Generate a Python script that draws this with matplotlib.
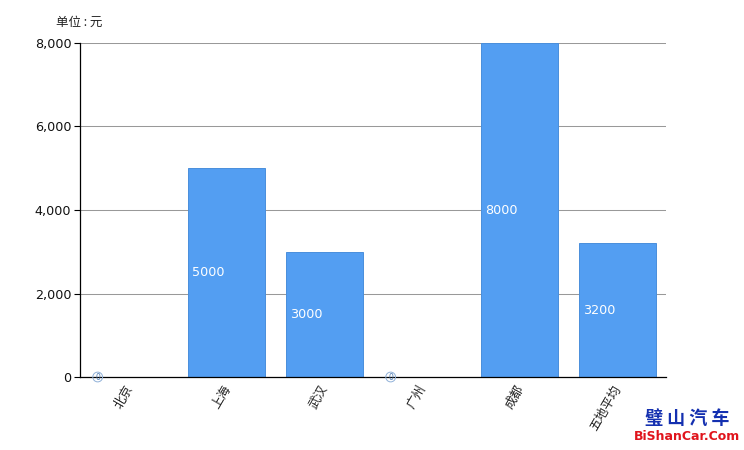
import matplotlib
matplotlib.use("Agg")
import matplotlib.pyplot as plt

plt.rcParams["font.family"] = ["Noto Sans CJK SC", "DejaVu Sans"]

cities = ["北京", "上海", "武汉", "广州", "成都", "五地平均"]
prices = [0, 5000, 3000, 0, 8000, 3200]
y_ticks = [0, 2000, 4000, 6000, 8000]

W, H = 744, 450


def main():
    fig = plt.figure(figsize=(W / 100, H / 100), dpi=100)
    ax = fig.add_axes([80 / W, 1 - 377 / H, 586 / W, 334 / H])
    x = list(range(len(cities)))

    ax.bar(x, prices, width=0.79, color="#539ef2", edgecolor="#4a8fdc", linewidth=0.7, zorder=2)
    ax.set_xlim(-0.5, 5.5)
    ax.set_ylim(0, 8000)

    ax.set_yticks(y_ticks)
    ax.set_yticklabels([f"{v:,}" for v in y_ticks], fontsize=9.2, family="DejaVu Sans", color="#111111")
    ax.yaxis.grid(True, color="#999999", linewidth=0.75, zorder=1)
    ax.set_axisbelow(True)
    ax.tick_params(axis="y", length=4.3, width=0.8, pad=2)

    ax.set_xticks(x)
    ax.set_xticklabels([])
    ax.tick_params(axis="x", length=0)
    for i, name in enumerate(cities):
        ax.annotate(name, (i, 0), xytext=(5, -4.3), textcoords="offset points",
                    rotation=60, ha="right", va="top", rotation_mode="default",
                    fontsize=9, color="#222222")

    for s in ["top", "right"]:
        ax.spines[s].set_visible(False)
    for s in ["left", "bottom"]:
        ax.spines[s].set_linewidth(0.9)
        ax.spines[s].set_color("black")

    # value labels sit near the left edge of each bar, halfway up
    for i, v in enumerate(prices):
        if v > 0:
            ax.annotate(str(v), (i - 0.395, v / 2), xytext=(3, 0), textcoords="offset points",
                        ha="left", va="center", fontsize=9.2, color="white",
                        family="DejaVu Sans", zorder=3)
        else:
            ax.annotate(str(v), (i - 0.395, 0), xytext=(3.6, 0), textcoords="offset points",
                        ha="left", va="center", fontsize=5.5, color="#4a78b0",
                        family="DejaVu Sans", zorder=3, annotation_clip=False,
                        bbox=dict(boxstyle="circle,pad=0.05", fc="none", ec="#8fb0d8", lw=0.7))

    fig.text(56 / W, 1 - 22 / H, "单位 : 元", fontsize=9, color="#222222", ha="left", va="center")

    # watermark
    fig.text(687 / W, 1 - 418 / H, "璧 山 汽 车", fontsize=13, color="#1430b0", fontweight="bold",
             ha="center", va="center")
    fig.text(687 / W, 1 - 437 / H, "BiShanCar.Com", fontsize=9, color="#e0141c", fontweight="bold",
             ha="center", va="center", family="DejaVu Sans")

    plt.savefig("out.png", dpi=100)


if __name__ == "__main__":
    main()
